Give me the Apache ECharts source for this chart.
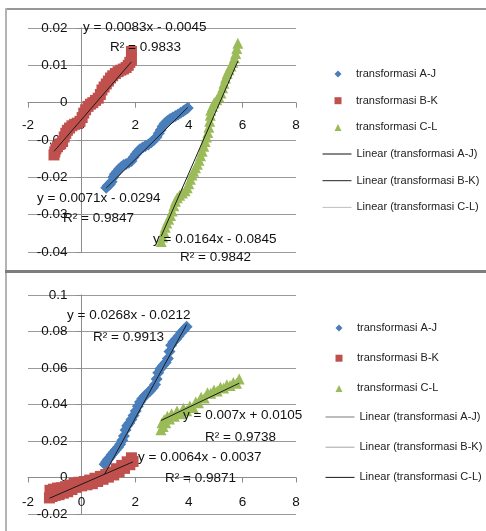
<!DOCTYPE html>
<html><head><meta charset="utf-8">
<script src="https://cdn.jsdelivr.net/npm/echarts@6/dist/echarts.min.js"></script>
<style>
html,body{margin:0;padding:0;background:#fff;width:486px;height:531px;overflow:hidden;position:relative}
#c1{position:absolute;left:0;top:0;width:486px;height:270px}
#c2{position:absolute;left:0;top:273px;width:486px;height:258px}
.ln{position:absolute;z-index:5}
</style></head><body>
<div id="c1"></div><div id="c2"></div>
<div class="ln" style="left:5px;top:8px;width:481px;height:2px;background:#979797"></div>
<div class="ln" style="left:5px;top:8px;width:2px;height:523px;background:#b3b3b3"></div>
<div class="ln" style="left:5px;top:270px;width:481px;height:3px;background:#7d7d7d"></div>
<script>
// ---------- names ----------
const seriesNames = ['transformasi A-J', 'transformasi B-K', 'transformasi C-L'];
const trendNames = ['Linear (transformasi A-J)', 'Linear (transformasi B-K)', 'Linear (transformasi C-L)'];

// ---------- top chart data ----------
const topAJ = [[0.92,-0.0228],[0.98,-0.0222],[1.05,-0.0219],[1.12,-0.0212],[1.18,-0.0200],[1.24,-0.0192],[1.32,-0.0185],[1.40,-0.0178],[1.48,-0.0172],[1.57,-0.0167],[1.66,-0.0164],[1.76,-0.0161],[1.86,-0.0156],[1.94,-0.0146],[2.02,-0.0138],[2.10,-0.0131],[2.18,-0.0125],[2.28,-0.0120],[2.38,-0.0116],[2.49,-0.0112],[2.60,-0.0106],[2.70,-0.0100],[2.80,-0.0092],[2.88,-0.0082],[2.95,-0.0073],[3.02,-0.0064],[3.10,-0.0056],[3.20,-0.0049],[3.30,-0.0044],[3.40,-0.0040],[3.50,-0.0036],[3.60,-0.0032],[3.70,-0.0027],[3.80,-0.0022],[3.88,-0.0018],[3.96,-0.0014]];
const topBK = [[-1.03,-0.0140],[-1.00,-0.0132],[-0.96,-0.0124],[-0.90,-0.0118],[-0.84,-0.0112],[-0.78,-0.0110],[-0.71,-0.0104],[-0.65,-0.0092],[-0.59,-0.0082],[-0.53,-0.0074],[-0.45,-0.0068],[-0.36,-0.0062],[-0.26,-0.0058],[-0.16,-0.0055],[-0.06,-0.0050],[0.02,-0.0040],[0.08,-0.0028],[0.15,-0.0019],[0.24,-0.0010],[0.33,-0.0004],[0.42,0.0000],[0.52,0.0006],[0.62,0.0012],[0.70,0.0022],[0.76,0.0034],[0.84,0.0042],[0.92,0.0050],[1.00,0.0058],[1.08,0.0066],[1.16,0.0072],[1.26,0.0078],[1.36,0.0083],[1.46,0.0087],[1.56,0.0090],[1.66,0.0094],[1.74,0.0100],[1.80,0.0108],[1.86,0.0114],[1.86,0.0137]];
const topCL = [[2.97,-0.0372],[3.02,-0.0360],[3.07,-0.0346],[3.12,-0.0334],[3.18,-0.0322],[3.25,-0.0312],[3.32,-0.0302],[3.38,-0.0290],[3.44,-0.0276],[3.50,-0.0264],[3.57,-0.0255],[3.66,-0.0248],[3.76,-0.0242],[3.86,-0.0236],[3.94,-0.0228],[4.00,-0.0217],[4.06,-0.0205],[4.12,-0.0194],[4.18,-0.0184],[4.25,-0.0174],[4.32,-0.0165],[4.38,-0.0154],[4.44,-0.0142],[4.50,-0.0130],[4.56,-0.0117],[4.61,-0.0104],[4.66,-0.0092],[4.71,-0.0080],[4.75,-0.0066],[4.78,-0.0050],[4.80,-0.0034],[4.82,-0.0020],[4.88,-0.0010],[4.95,0.0000],[5.04,0.0008],[5.12,0.0016],[5.20,0.0026],[5.26,0.0040],[5.31,0.0052],[5.37,0.0066],[5.43,0.0078],[5.50,0.0088],[5.57,0.0098],[5.64,0.0108],[5.70,0.0120],[5.75,0.0132],[5.79,0.0145],[5.83,0.0159]];
const topSlope = [0.0071, 0.0083, 0.0164];
const topIntercept = [-0.0294, -0.0045, -0.0845];
const topEq = ['y = 0.0071x - 0.0294', 'y = 0.0083x - 0.0045', 'y = 0.0164x - 0.0845'];
const topR2 = ['R\u00b2 = 0.9847', 'R\u00b2 = 0.9833', 'R\u00b2 = 0.9842'];
const topYAxis = {min: -0.04, max: 0.02, interval: 0.01};

// ---------- bottom chart data ----------
const botAJ = [[0.86,0.0072],[0.92,0.0086],[0.98,0.0098],[1.05,0.0110],[1.12,0.0124],[1.20,0.0138],[1.28,0.0152],[1.36,0.0166],[1.44,0.0182],[1.52,0.0204],[1.58,0.0228],[1.64,0.0260],[1.70,0.0284],[1.78,0.0298],[1.86,0.0318],[1.94,0.0340],[2.02,0.0364],[2.10,0.0390],[2.18,0.0414],[2.26,0.0432],[2.36,0.0448],[2.46,0.0462],[2.56,0.0476],[2.66,0.0492],[2.74,0.0510],[2.80,0.0540],[2.86,0.0574],[2.94,0.0596],[3.04,0.0614],[3.14,0.0630],[3.22,0.0652],[3.28,0.0690],[3.34,0.0724],[3.42,0.0742],[3.52,0.0758],[3.62,0.0776],[3.72,0.0794],[3.82,0.0810],[3.92,0.0826]];
const botBK = [[-1.20,-0.0112],[-1.18,-0.0070],[-1.10,-0.0104],[-1.05,-0.0064],[-0.98,-0.0098],[-0.90,-0.0058],[-0.84,-0.0094],[-0.76,-0.0056],[-0.68,-0.0086],[-0.60,-0.0050],[-0.52,-0.0078],[-0.44,-0.0042],[-0.36,-0.0066],[-0.28,-0.0032],[-0.20,-0.0054],[-0.10,-0.0026],[0.00,-0.0046],[0.10,-0.0022],[0.20,-0.0040],[0.30,-0.0014],[0.40,-0.0034],[0.50,-0.0004],[0.60,-0.0022],[0.70,0.0006],[0.80,-0.0010],[0.90,0.0016],[1.00,0.0002],[1.10,0.0030],[1.20,0.0014],[1.30,0.0048],[1.40,0.0032],[1.50,0.0066],[1.60,0.0050],[1.70,0.0086],[1.80,0.0070],[1.86,0.0108],[1.92,0.0088]];
const botCL = [[2.96,0.0262],[3.00,0.0300],[3.04,0.0280],[3.08,0.0316],[3.14,0.0300],[3.20,0.0336],[3.28,0.0320],[3.36,0.0350],[3.46,0.0336],[3.56,0.0364],[3.68,0.0350],[3.80,0.0380],[3.92,0.0366],[4.04,0.0392],[4.16,0.0384],[4.26,0.0414],[4.36,0.0410],[4.46,0.0440],[4.58,0.0436],[4.70,0.0464],[4.82,0.0462],[4.94,0.0480],[5.06,0.0474],[5.18,0.0494],[5.30,0.0490],[5.42,0.0508],[5.54,0.0504],[5.66,0.0520],[5.78,0.0516],[5.88,0.0540]];
const botSlope = [0.0268, 0.0064, 0.007];
const botIntercept = [-0.0212, -0.0037, 0.0105];
const botEq = ['y = 0.0268x - 0.0212', 'y = 0.0064x - 0.0037', 'y = 0.007x + 0.0105'];
const botR2 = ['R\u00b2 = 0.9913', 'R\u00b2 = 0.9871', 'R\u00b2 = 0.9738'];
const botYAxis = {min: -0.02, max: 0.1, interval: 0.02};

const xAxisRange = {min: -2, max: 8, interval: 2};

// ---------- styling ----------
const FONT = 'Liberation Sans, Arial, sans-serif';
const colors = ['#4a7ebb', '#c0504d', '#9bbb59'];
const symbols = ['diamond', 'rect', 'triangle'];
const symbolSizes = [12, 11, 11];
const GRID_LEFT = 28, GRID_WIDTH = 268;

function trendPoints(pts, a, b) {
  const xs = pts.map(p => p[0]);
  const x0 = Math.min(...xs), x1 = Math.max(...xs);
  return [[x0, a * x0 + b], [x1, a * x1 + b]];
}

function makeOption(cfg) {
  const series = [];
  cfg.data.forEach((d, i) => {
    series.push({
      name: seriesNames[i], type: 'scatter', data: d,
      symbol: symbols[i], symbolSize: symbolSizes[i],
      itemStyle: {color: colors[i], opacity: 1},
      z: 2, animation: false, silent: true
    });
  });
  cfg.data.forEach((d, i) => {
    series.push({
      name: trendNames[i], type: 'line',
      data: trendPoints(d, cfg.slope[i], cfg.intercept[i]),
      symbol: 'none', showSymbol: false,
      lineStyle: {color: '#1a1a1a', width: 1},
      itemStyle: {color: '#1a1a1a'},
      z: 4, animation: false, silent: true
    });
  });
  const graphics = [];
  cfg.labelPos.forEach((p, i) => {
    graphics.push({type: 'text', x: p[0], y: p[1], z: 100,
      style: {text: cfg.eq[i], fontSize: 13.5, fontFamily: FONT, fill: '#111', align: 'left', verticalAlign: 'middle'}});
    graphics.push({type: 'text', x: p[2], y: p[3], z: 100,
      style: {text: cfg.r2[i], fontSize: 13.5, fontFamily: FONT, fill: '#111', align: 'left', verticalAlign: 'middle'}});
  });
  const yZeroFromBottom = cfg.gridHeight * (0 - cfg.y.min) / (cfg.y.max - cfg.y.min);
  const xZeroFromLeft = GRID_WIDTH * (0 - xAxisRange.min) / (xAxisRange.max - xAxisRange.min);
  const legText = {fontSize: 11, fontFamily: FONT, color: '#222', lineHeight: 14};
  return {
    animation: false,
    backgroundColor: 'transparent',
    grid: {left: GRID_LEFT, top: cfg.gridTop, width: GRID_WIDTH, height: cfg.gridHeight, containLabel: false, outerBoundsMode: 'none'},
    legend: [
      {
        orient: 'vertical', left: cfg.markLegLeft, top: cfg.markLegTop, padding: 0,
        itemWidth: 7, itemHeight: 7, itemGap: cfg.legendGap,
        textStyle: Object.assign({padding: [0, 0, 0, cfg.markTextPad]}, legText),
        selectedMode: false,
        data: seriesNames.map((n, i) => ({name: n, icon: symbols[i]}))
      },
      {
        orient: 'vertical', left: cfg.lineLegLeft, top: cfg.lineLegTop, padding: 0,
        itemWidth: 29, itemHeight: 7, itemGap: cfg.legendGap,
        textStyle: legText,
        selectedMode: false,
        data: trendNames.map((n, i) => ({name: n, lineStyle: {color: cfg.legendLine[i], width: 1}, itemStyle: {color: cfg.legendLine[i], opacity: 0}}))
      }
    ],
    xAxis: {
      type: 'value', min: xAxisRange.min, max: xAxisRange.max, interval: xAxisRange.interval,
      position: 'bottom', offset: -yZeroFromBottom,
      axisLine: {show: true, onZero: false, lineStyle: {color: '#8c8c8c', width: 1}},
      axisTick: {show: true, length: 5, lineStyle: {color: '#8c8c8c'}},
      axisLabel: {show: true, fontSize: 13.5, fontFamily: FONT, color: '#111', margin: cfg.xLabelMargin, hideOverlap: false},
      splitLine: {show: false}
    },
    yAxis: {
      type: 'value', min: cfg.y.min, max: cfg.y.max, interval: cfg.y.interval,
      position: 'left', offset: -xZeroFromLeft,
      axisLine: {show: true, onZero: false, lineStyle: {color: '#8c8c8c', width: 1}},
      axisTick: {show: true, length: 5, lineStyle: {color: '#8c8c8c'}},
      axisLabel: {show: true, fontSize: 13.5, fontFamily: FONT, color: '#111', margin: 14, hideOverlap: false},
      splitLine: {show: true, lineStyle: {color: '#9a9a9a', width: 1}}
    },
    graphic: {elements: graphics},
    series: series
  };
}

const chart1 = echarts.init(document.getElementById('c1'), null, {renderer: 'canvas'});
chart1.setOption(makeOption({
  data: [topAJ, topBK, topCL], slope: topSlope, intercept: topIntercept,
  eq: topEq, r2: topR2,
  labelPos: [[37, 198, 63, 218], [83, 27, 110, 47], [153, 239, 180, 257]],
  legendLine: ['#111111', '#222222', '#bfbfbf'],
  gridTop: 28, gridHeight: 224, y: topYAxis,
  markLegLeft: 334.5, markLegTop: 67, markTextPad: 9.5,
  lineLegLeft: 322, lineLegTop: 147, legendGap: 12.7,
  xLabelMargin: 16
}));

const chart2 = echarts.init(document.getElementById('c2'), null, {renderer: 'canvas'});
chart2.setOption(makeOption({
  data: [botAJ, botBK, botCL], slope: botSlope, intercept: botIntercept,
  eq: botEq, r2: botR2,
  labelPos: [[67, 42, 93, 64], [138, 184, 165, 205], [183, 142, 205, 164]],
  legendLine: ['#7a7a7a', '#a6a6a6', '#1a1a1a'],
  gridTop: 22, gridHeight: 219, y: botYAxis,
  markLegLeft: 335.5, markLegTop: 48, markTextPad: 9.5,
  lineLegLeft: 325, lineLegTop: 137, legendGap: 16.2,
  xLabelMargin: 18
}));
</script>
</body></html>
